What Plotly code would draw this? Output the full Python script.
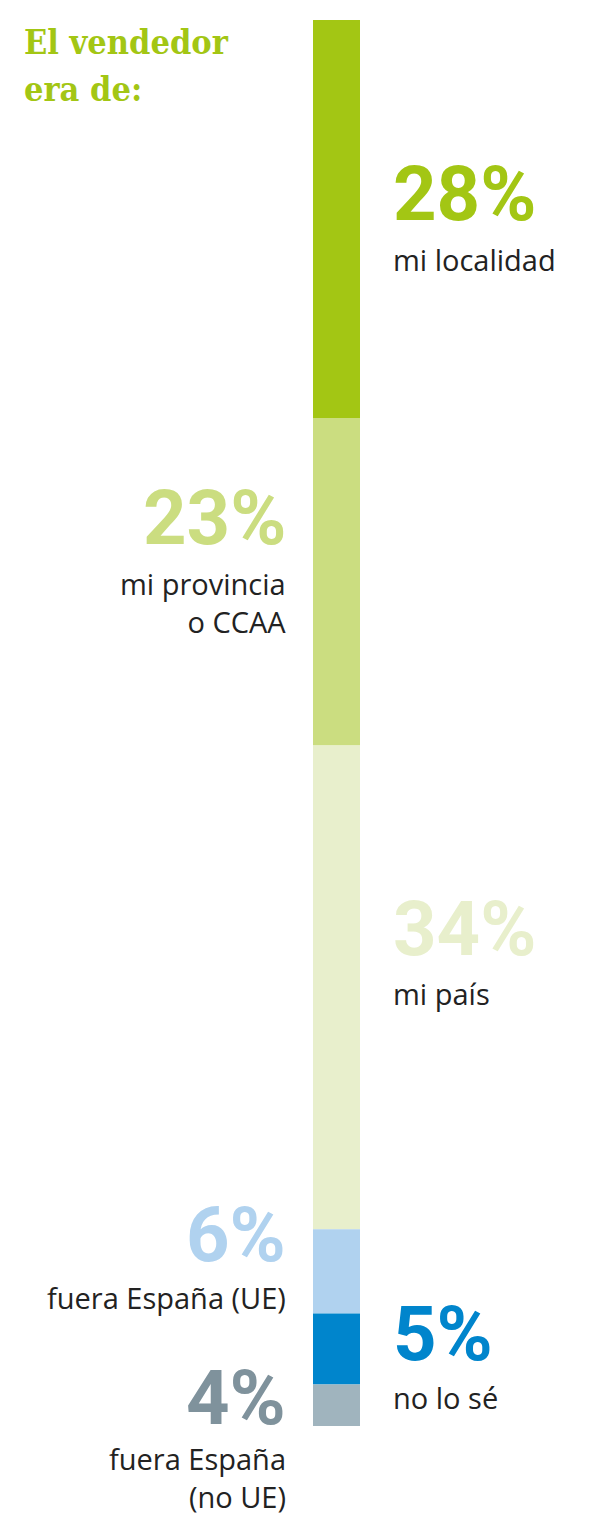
import plotly.graph_objects as go

# ---- data ----
categories = ["mi localidad", "mi provincia<br>o CCAA", "mi país",
              "fuera España (UE)", "no lo sé", "fuera España<br>(no UE)"]
values = [28, 23, 34, 6, 5, 4]                      # printed percentages
bar_lengths = [28.3, 23.3, 34.4, 6.0, 5.05, 2.95]   # segment lengths as drawn in the picture
bar_colors = ["#A3C614", "#CBDD80", "#E8EFCC", "#B0D2EF", "#0085CC", "#A0B4BE"]
label_colors = ["#A3C614", "#CBDD80", "#E8EFCC", "#B0D2EF", "#0085CC", "#7F929C"]
title_lines = ["El vendedor", "era de:"]

# ---- layout helpers (positions / styles) ----
W, H = 600, 1532
bar_top_px, bar_bot_px = 20, 1426
bar_left_px, bar_right_px = 313, 360
sides = ["right", "left", "right", "left", "right", "left"]
pct_mid_px = [194, 518, 929, 1235, 1334, 1398]
desc_mid_px = [259, 603, 993, 1297, 1397, 1477]
title_mid_px = [42, 89]

bw = (bar_right_px - bar_left_px)
r0 = -0.5 - bar_left_px / bw
r1 = r0 + W / bw

fig = go.Figure()
base = 0
for cat, v, c in zip(categories, bar_lengths, bar_colors):
    fig.add_trace(go.Bar(x=[0], y=[v], base=[base], marker=dict(color=c, line=dict(width=0)),
                         width=1, name=cat, showlegend=False, hoverinfo="skip"))
    base += v

fig.update_layout(
    width=W, height=H, barmode="overlay",
    margin=dict(l=0, r=0, t=0, b=0),
    paper_bgcolor="white", plot_bgcolor="white",
    xaxis=dict(range=[r0, r1], visible=False, fixedrange=True),
    yaxis=dict(range=[100, 0], visible=False, fixedrange=True,
               domain=[1 - bar_bot_px / H, 1 - bar_top_px / H]),
)

def ypaper(px):
    return 1 - px / H

for i, (cat, v) in enumerate(zip(categories, values)):
    if sides[i] == "right":
        xp, anchor = 391 / W, "left"
    else:
        xp, anchor = 288 / W, "right"
    fig.add_annotation(xref="paper", yref="paper", x=xp, y=ypaper(pct_mid_px[i]),
                       text=f"<b>{v}%</b>", showarrow=False, xanchor=anchor, yanchor="middle",
                       align=anchor,
                       font=dict(family="Roboto", size=76, color=label_colors[i]))
    fig.add_annotation(xref="paper", yref="paper", x=xp, y=ypaper(desc_mid_px[i]),
                       text=cat, showarrow=False, xanchor=anchor, yanchor="middle",
                       align=anchor,
                       font=dict(family="Open Sans", size=29, color="#222222"))

for line, ym in zip(title_lines, title_mid_px):
    fig.add_annotation(xref="paper", yref="paper", x=22 / W, y=ypaper(ym), text=f"<b>{line}</b>",
                       showarrow=False, xanchor="left", yanchor="middle", align="left",
                       font=dict(family="DejaVu Serif Condensed, DejaVu Serif", size=34,
                                 color="#A3C614"))

fig.write_html("out.html", config={"displayModeBar": False},
               post_script="document.body.style.margin='0';")
